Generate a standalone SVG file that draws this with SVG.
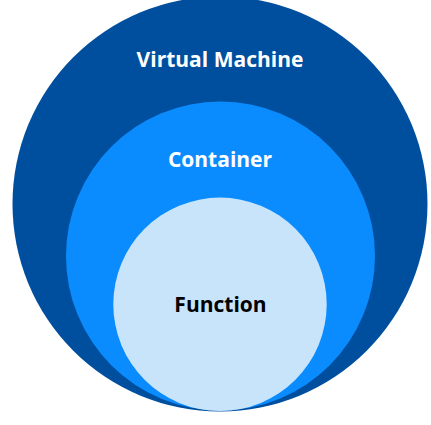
<svg xmlns="http://www.w3.org/2000/svg" width="431" height="425" viewBox="0 0 431 425">
<style>
.lbl{font-family:"Open Sans","Liberation Sans",sans-serif;font-weight:700;font-size:21px;text-anchor:middle;font-variant-ligatures:none}
</style>
<rect width="431" height="425" fill="#ffffff"/>
<g id="vm">
<circle cx="220" cy="204" r="207.5" fill="#004f9f"/>
<text class="lbl" x="220" y="66.5" fill="#ffffff">Virtual Machine</text>
</g>
<g id="container">
<circle cx="220.5" cy="256" r="154.5" fill="#0a8cff"/>
<text class="lbl" x="220" y="167" fill="#ffffff">Container</text>
</g>
<g id="function">
<circle cx="220" cy="304.3" r="106.7" fill="#c7e4fb"/>
<text class="lbl" x="220.5" y="312" fill="#000000">Function</text>
</g>
<g id="connectors"/>
</svg>
